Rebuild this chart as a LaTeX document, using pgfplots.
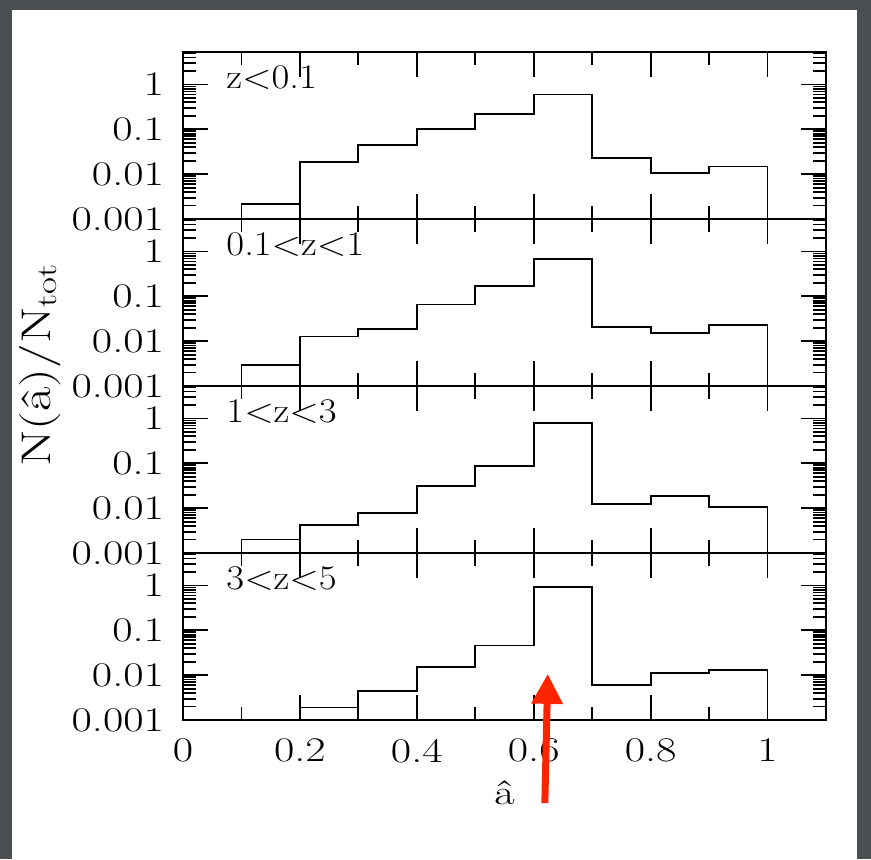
\documentclass[border=0pt]{standalone}
\usepackage{fontspec}
\setmainfont{lmroman17-regular.otf}[FakeStretch=1.28]
\newfontfamily\lab{lmroman17-regular.otf}[FakeStretch=1.12]
\usepackage{pgfplots}
\pgfplotsset{compat=1.18}
\usepgfplotslibrary{groupplots}
\usetikzlibrary{arrows.meta,backgrounds,calc}
\definecolor{slide}{RGB}{74,79,82}
\definecolor{arrowred}{RGB}{255,36,0}
\pgfplotsset{hist/.style={const plot, black, line width=0.9pt, mark=none}}
\tikzset{zlab/.style={anchor=base west, inner sep=0pt, font=\LARGE\lab}}
\begin{document}
\begin{tikzpicture}
\begin{groupplot}[
  group style={group size=1 by 4, vertical sep=0pt, x descriptions at=edge bottom},
  width=321.5pt, height=83.5pt, scale only axis,
  xmin=0, xmax=1.1, ymode=log, ymin=0.001, ymax=5.3,
  xtick={0,0.2,0.4,0.6,0.8,1}, minor xtick={0.1,0.3,0.5,0.7,0.9},
  ytick={0.001,0.01,0.1,1}, yticklabels={0.001,0.01,0.1,1},
  minor ytick={0.002,0.003,0.004,0.005,0.006,0.007,0.008,0.009,
    0.02,0.03,0.04,0.05,0.06,0.07,0.08,0.09,
    0.2,0.3,0.4,0.5,0.6,0.7,0.8,0.9,2,3,4,5},
  /pgf/number format/assume math mode=true,
  tick align=inside, xtick pos=both, ytick pos=both,
  yticklabel pos=left, xticklabel pos=lower,
  major tick length=12.5pt, minor tick length=6.5pt,
  every tick/.append style={black, line width=0.9pt},
  axis line style={line width=0.9pt},
  tick label style={font=\LARGE},
  yticklabel style={xshift=-6pt},
  xticklabel style={yshift=-6pt},
  clip=false]
% z < 0.1
\nextgroupplot
\addplot[hist] coordinates {(0.1,0.001)(0.1,0.0022)(0.2,0.0185)(0.3,0.044)(0.4,0.10)
  (0.5,0.22)(0.6,0.60)(0.7,0.023)(0.8,0.0107)(0.9,0.0148)(1.0,0.0148)(1.0,0.001)};
\node[zlab] at (axis description cs:0.067,0.78) {z<0.1};
% 0.1 < z < 1
\nextgroupplot
\addplot[hist] coordinates {(0.1,0.001)(0.1,0.0029)(0.2,0.0127)(0.3,0.019)(0.4,0.066)
  (0.5,0.17)(0.6,0.68)(0.7,0.0206)(0.8,0.0151)(0.9,0.0225)(1.0,0.0225)(1.0,0.001)};
\node[zlab] at (axis description cs:0.067,0.78) {0.1<z<1};
% 1 < z < 3
\nextgroupplot
\addplot[hist] coordinates {(0.1,0.001)(0.1,0.0020)(0.2,0.0043)(0.3,0.0079)(0.4,0.031)
  (0.5,0.086)(0.6,0.79)(0.7,0.0125)(0.8,0.0184)(0.9,0.0107)(1.0,0.0107)(1.0,0.001)};
\node[zlab] at (axis description cs:0.067,0.78) {1<z<3};
% 3 < z < 5
\nextgroupplot[xlabel={\^a}, xlabel style={font=\LARGE, at={(axis description cs:0.5,-0.437)}, anchor=center}]
\addplot[hist] coordinates {(0.2,0.001)(0.2,0.0019)(0.3,0.0044)(0.4,0.015)
  (0.5,0.046)(0.6,0.92)(0.7,0.006)(0.8,0.011)(0.9,0.0129)(1.0,0.0129)(1.0,0.001)};
\node[zlab] at (axis description cs:0.067,0.78) {3<z<5};
\draw[arrowred, line width=3.5pt, -{Triangle[width=15pt,length=15pt]}]
  (axis cs:0.619,1.4e-5) -- (axis cs:0.624,0.0107);
\end{groupplot}
\node[rotate=90, font=\huge] at ($(group c1r1.north west)+(-71.5pt,-156.5pt)$) {N(\^a)/N\textsubscript{tot}};
\begin{scope}[on background layer]
\fill[slide] ($(group c1r1.north west)+(-91.5pt,26pt)$) rectangle ($(group c1r1.north west)+(344pt,-403.5pt)$);
\fill[white] ($(group c1r1.north west)+(-85.5pt,21pt)$) rectangle ($(group c1r1.north west)+(337pt,-403.5pt)$);
\end{scope}
\end{tikzpicture}
\end{document}
